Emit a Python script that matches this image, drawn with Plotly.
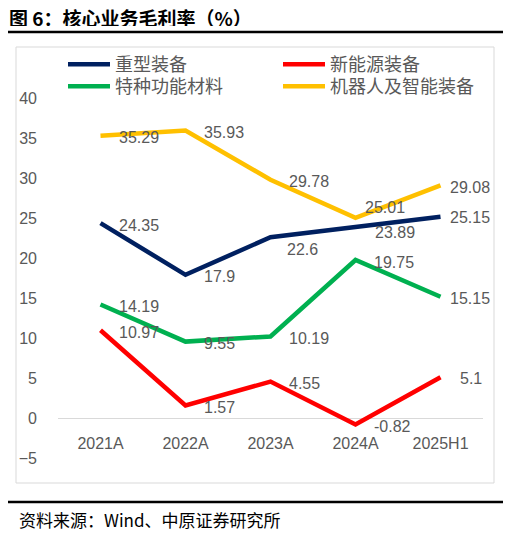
import plotly.graph_objects as go

categories = ['2021A', '2022A', '2023A', '2024A', '2025H1']
heavy = [24.35, 17.9, 22.6, 23.89, 25.15]
new_energy = [10.97, 1.57, 4.55, -0.82, 5.1]
special = [14.19, 9.55, 10.19, 19.75, 15.15]
robot = [35.29, 35.93, 29.78, 25.01, 29.08]
names = ['重型装备', '新能源装备', '特种功能材料', '机器人及智能装备']

# page has an 8px body margin, so the figure is made smaller and all
# positions below are given in page (reference) pixels
OFF = 8
W, H = 511 - OFF, 533 - OFF
X0, X1, Y0, Y1 = 58, 483, 98, 458
YMIN, YMAX = -5, 40


def px(p):
    return (p - X0) / (X1 - X0)


def py(p):
    return (Y1 - p) / (Y1 - Y0)


colors = ['#002060', '#FF0000', '#00B050', '#FFC000']
series = [heavy, new_energy, special, robot]
legends = ['legend', 'legend2', 'legend3', 'legend4']
legend_pos = [(63, 46), (278, 46), (63, 68), (278, 68)]

fig = go.Figure()
for name, vals, col, lg in zip(names, series, colors, legends):
    fig.add_trace(go.Scatter(x=categories, y=vals, name=name, mode='lines',
                             line=dict(color=col, width=4.5), legend=lg, showlegend=True))

# label offsets (dx, dy in px), default right of point
default_off = (16, 2)
special_off = {
    (0, 2): (14, 12), (0, 3): (17, 6), (3, 3): (7, -10),
    (0, 4): (7, 1), (2, 4): (7, 2), (3, 4): (7, 2), (1, 4): (17, 1),
}
ann = []
for si, vals in enumerate(series):
    for pi, v in enumerate(vals):
        dx, dy = special_off.get((si, pi), default_off)
        ann.append(dict(x=categories[pi], y=v, xref='x', yref='y', text=str(v),
                        showarrow=False, xanchor='left', yanchor='middle',
                        xshift=dx, yshift=-dy,
                        font=dict(family='Liberation Sans', size=16, color='#595959')))

ann.append(dict(x=px(7), y=py(17), xref='paper', yref='paper', text='<b>图 6：核心业务毛利率（%）</b>',
                showarrow=False, xanchor='left', yanchor='middle', height=18, valign='middle',
                font=dict(family='Noto Sans CJK SC', size=19, color='#000000')))
ann.append(dict(x=px(17), y=py(519), xref='paper', yref='paper', text='资料来源：Wind、中原证券研究所',
                showarrow=False, xanchor='left', yanchor='middle',
                font=dict(family='Noto Sans CJK SC', size=17, color='#000000')))

shapes = [
    dict(type='line', xref='paper', yref='paper', x0=px(5), x1=px(505), y0=py(32), y1=py(32),
         line=dict(color='#000000', width=2.5)),
    dict(type='line', xref='paper', yref='paper', x0=px(5), x1=px(505), y0=py(502), y1=py(502),
         line=dict(color='#000000', width=2.5)),
    dict(type='rect', xref='paper', yref='paper', x0=px(16), x1=px(494), y0=py(483), y1=py(47),
         line=dict(color='#d9d9d9', width=1), layer='below'),
]

legend_font = dict(family='Noto Sans CJK SC', size=18, color='#595959')
layout_legends = {}
for lg, (lx, ly) in zip(legends, legend_pos):
    layout_legends[lg] = dict(x=px(lx), y=py(ly), xanchor='left', yanchor='top', font=legend_font,
                              bgcolor='rgba(0,0,0,0)', itemwidth=42)

fig.update_layout(
    width=W, height=H,
    margin=dict(l=X0 - OFF, r=511 - X1, t=Y0 - OFF, b=533 - Y1),
    paper_bgcolor='white', plot_bgcolor='white',
    showlegend=True,
    annotations=ann, shapes=shapes,
    xaxis=dict(anchor='free', position=(0 - YMIN) / (YMAX - YMIN), range=[-0.5, 4.5],
               showgrid=False, showline=False, zeroline=False, ticks='', ticklabelstandoff=14,
               tickfont=dict(family='Liberation Sans', size=16, color='#595959')),
    yaxis=dict(range=[YMIN, YMAX], dtick=5, showgrid=False, zeroline=True,
               zerolinecolor='#d9d9d9', zerolinewidth=1, showline=False, ticks='',
               ticklabelstandoff=20,
               tickfont=dict(family='Liberation Sans', size=16, color='#595959')),
    **layout_legends,
)

fig.write_html('out.html')
